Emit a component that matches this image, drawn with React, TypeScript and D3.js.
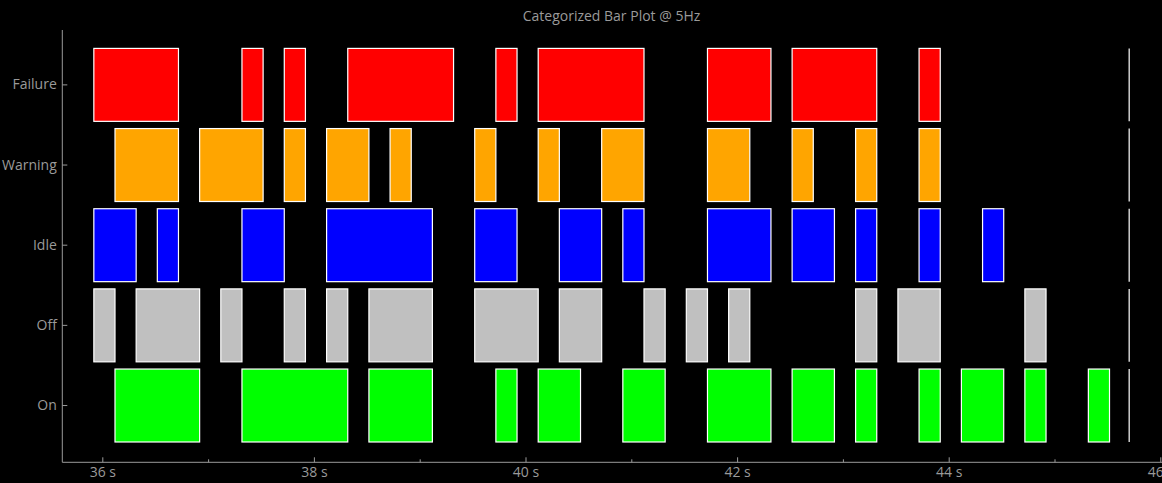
import { useEffect, useRef } from 'react';
import * as d3 from 'd3';

// sampling: 5 Hz, first sample edge at t0
const sampleRate = 5;
const t0 = 35.92;
const sampleCount = 49;

const categories = ['Failure', 'Warning', 'Idle', 'Off', 'On'];
const colors = ['#ff0000', '#ffa500', '#0000ff', '#c0c0c0', '#00ff00'];

// active runs per category as [startSample, endSample)
const failureRuns = [[0, 4], [7, 8], [9, 10], [12, 17], [19, 20], [21, 26], [29, 32], [33, 37], [39, 40]];
const warningRuns = [[1, 4], [5, 8], [9, 10], [11, 13], [14, 15], [18, 19], [21, 22], [24, 26], [29, 31], [33, 34], [36, 37], [39, 40]];
const idleRuns = [[0, 2], [3, 4], [7, 9], [11, 16], [18, 20], [22, 24], [25, 26], [29, 32], [33, 35], [36, 37], [39, 40], [42, 43]];
const offRuns = [[0, 1], [2, 5], [6, 7], [9, 10], [11, 12], [13, 16], [18, 21], [22, 24], [26, 27], [28, 29], [30, 31], [36, 37], [38, 40], [44, 45]];
const onRuns = [[1, 5], [7, 12], [13, 16], [19, 20], [21, 23], [25, 27], [29, 32], [33, 35], [36, 37], [39, 40], [41, 43], [44, 45], [47, 48]];

const runsByCategory = [failureRuns, warningRuns, idleRuns, offRuns, onRuns];

const majorTicks = [36, 38, 40, 42, 44, 46];
const minorTicks = [37, 39, 41, 43, 45];

const title = 'Categorized Bar Plot @ 5Hz';

export default function App() {
  const svgRef = useRef<SVGSVGElement>(null);

  useEffect(() => {
    if (!svgRef.current) return;
    document.body.style.margin = '0';
    d3.select(svgRef.current).selectAll('*').remove();

    const width = 1162, height = 483;
    const axisX = 62.3, axisY = 462.3;
    const gray = '#9a9a9a';
    const font = '"Open Sans", "Noto Sans", sans-serif';

    const svg = d3.select(svgRef.current).attr('width', width).attr('height', height);
    svg.append('rect').attr('width', width).attr('height', height).attr('fill', '#000');

    const x = d3.scaleLinear().domain([36, 46]).range([102.3, 1160.3]);
    const y = d3.scaleBand<string>().domain(categories).range([44.8, 445.6])
      .paddingInner(0.09).paddingOuter(0.045);

    const toTime = (i: number) => t0 + i / sampleRate;

    categories.forEach((cat, ci) => {
      const g = svg.append('g');
      g.selectAll('rect').data(runsByCategory[ci]).enter().append('rect')
        .attr('x', d => x(toTime(d[0])))
        .attr('width', d => x(toTime(d[1])) - x(toTime(d[0])))
        .attr('y', y(cat)!)
        .attr('height', y.bandwidth())
        .attr('fill', colors[ci])
        .attr('stroke', '#fff')
        .attr('stroke-width', 1.2);
      // last sample: zero-width bar
      g.append('line')
        .attr('x1', x(toTime(sampleCount)) - 1.5).attr('x2', x(toTime(sampleCount)) - 1.5)
        .attr('y1', y(cat)!).attr('y2', y(cat)! + y.bandwidth())
        .attr('stroke', '#fff').attr('stroke-width', 1.2);
    });

    // axes
    svg.append('line').attr('x1', axisX).attr('x2', axisX).attr('y1', 30).attr('y2', axisY)
      .attr('stroke', gray).attr('stroke-width', 1);
    svg.append('line').attr('x1', axisX).attr('x2', width).attr('y1', axisY).attr('y2', axisY)
      .attr('stroke', gray).attr('stroke-width', 1);

    const xAxis = svg.append('g').attr('transform', 'translate(0,' + axisY + ')')
      .call(d3.axisBottom(x).tickValues(majorTicks).tickSize(-5).tickPadding(5)
        .tickFormat(d => d + ' s'));
    svg.append('g').attr('transform', 'translate(0,' + axisY + ')')
      .call(d3.axisBottom(x).tickValues(minorTicks).tickSize(-3).tickFormat(() => ''))
      .call(g => g.select('.domain').remove());
    xAxis.select('.domain').remove();

    const yAxis = svg.append('g').attr('transform', 'translate(' + axisX + ',0)')
      .call(d3.axisLeft(y).tickSize(-5).tickPadding(5.5));
    yAxis.select('.domain').remove();

    svg.selectAll('.tick line').attr('stroke', gray);
    svg.selectAll('.tick text').attr('fill', gray).attr('font-size', 14).attr('font-family', font);

    svg.append('text').attr('x', 611.5).attr('y', 21).attr('text-anchor', 'middle')
      .attr('fill', gray).attr('font-size', 14).attr('font-family', font).text(title);
  }, []);

  return (
    <div style={{ position: 'fixed', left: 0, top: 0, width: 1162, height: 483, overflow: 'hidden', background: '#000' }}>
      <svg ref={svgRef} style={{ display: 'block' }}></svg>
    </div>
  );
}
